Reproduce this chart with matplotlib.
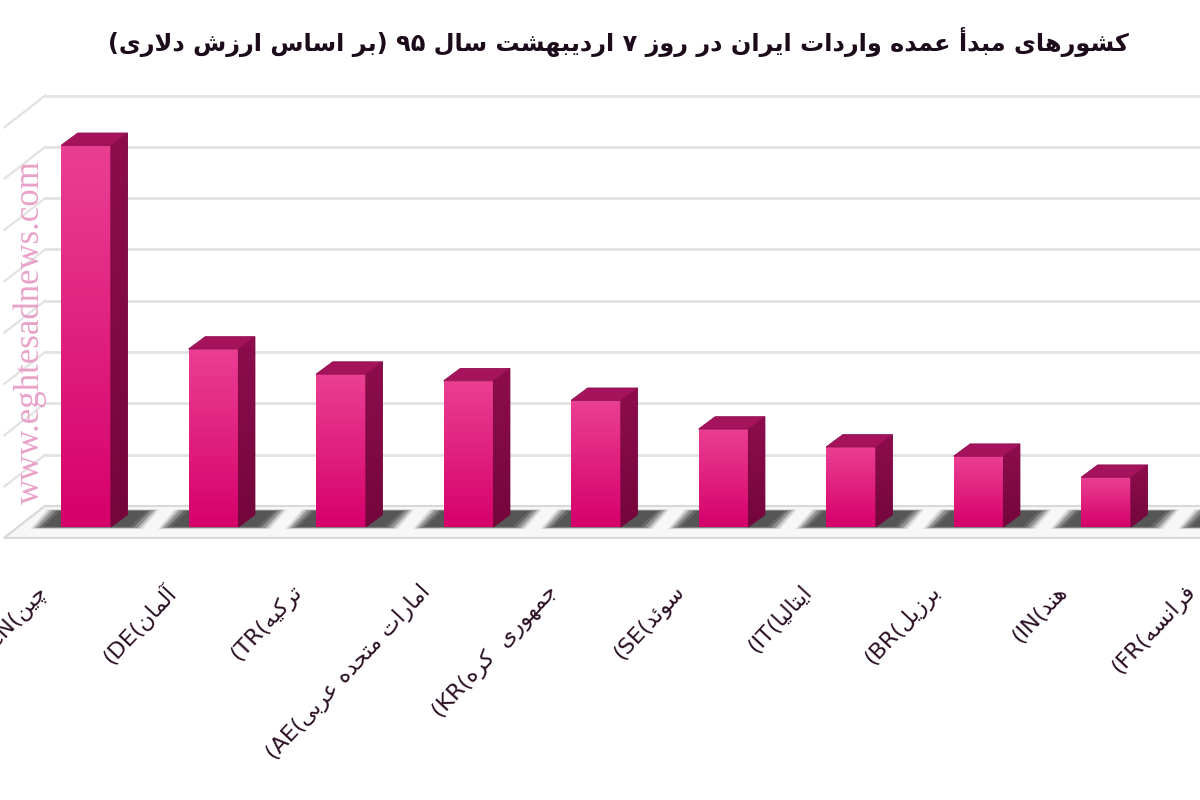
import numpy as np
import matplotlib.pyplot as plt
from matplotlib.colors import LinearSegmentedColormap
from matplotlib.patches import Polygon

# Data (relative units: one gridline step = 1)
codes = ['CN', 'DE', 'TR', 'AE', 'KR', 'SE', 'IT', 'BR', 'IN', 'FR']
names = ['چین', 'آلمان', 'ترکیه', 'امارات متحده عربی', 'جمهوری  کره',
         'سوئد', 'ایتالیا', 'برزیل', 'هند', 'فرانسه']
values = [7.44, 3.47, 2.98, 2.85, 2.47, 1.91, 1.56, 1.38, 0.97, 0.80]
grid_steps = [1, 2, 3, 4, 5, 6, 7, 8]

title = 'کشورهای مبدأ عمده واردات ایران در روز ۷ اردیبهشت سال ۹۵ (بر اساس ارزش دلاری)'
watermark = 'www.eghtesadnews.com'

# --- minimal Arabic/Persian shaping (matplotlib has no text shaping) ---
FORMS = {
    'ا': (0xFE8D, 0xFE8E), 'آ': (0xFE81, 0xFE82), 'أ': (0xFE83, 0xFE84),
    'إ': (0xFE87, 0xFE88), 'د': (0xFEA9, 0xFEAA), 'ذ': (0xFEAB, 0xFEAC),
    'ر': (0xFEAD, 0xFEAE), 'ز': (0xFEAF, 0xFEB0), 'ژ': (0xFB8A, 0xFB8B),
    'و': (0xFEED, 0xFEEE),
    'ب': (0xFE8F, 0xFE90, 0xFE91, 0xFE92), 'پ': (0xFB56, 0xFB57, 0xFB58, 0xFB59),
    'ت': (0xFE95, 0xFE96, 0xFE97, 0xFE98), 'ث': (0xFE99, 0xFE9A, 0xFE9B, 0xFE9C),
    'ج': (0xFE9D, 0xFE9E, 0xFE9F, 0xFEA0), 'چ': (0xFB7A, 0xFB7B, 0xFB7C, 0xFB7D),
    'ح': (0xFEA1, 0xFEA2, 0xFEA3, 0xFEA4), 'خ': (0xFEA5, 0xFEA6, 0xFEA7, 0xFEA8),
    'س': (0xFEB1, 0xFEB2, 0xFEB3, 0xFEB4), 'ش': (0xFEB5, 0xFEB6, 0xFEB7, 0xFEB8),
    'ص': (0xFEB9, 0xFEBA, 0xFEBB, 0xFEBC), 'ض': (0xFEBD, 0xFEBE, 0xFEBF, 0xFEC0),
    'ط': (0xFEC1, 0xFEC2, 0xFEC3, 0xFEC4), 'ظ': (0xFEC5, 0xFEC6, 0xFEC7, 0xFEC8),
    'ع': (0xFEC9, 0xFECA, 0xFECB, 0xFECC), 'غ': (0xFECD, 0xFECE, 0xFECF, 0xFED0),
    'ف': (0xFED1, 0xFED2, 0xFED3, 0xFED4), 'ق': (0xFED5, 0xFED6, 0xFED7, 0xFED8),
    'ک': (0xFB8E, 0xFB8F, 0xFB90, 0xFB91), 'گ': (0xFB92, 0xFB93, 0xFB94, 0xFB95),
    'ل': (0xFEDD, 0xFEDE, 0xFEDF, 0xFEE0), 'م': (0xFEE1, 0xFEE2, 0xFEE3, 0xFEE4),
    'ن': (0xFEE5, 0xFEE6, 0xFEE7, 0xFEE8), 'ه': (0xFEE9, 0xFEEA, 0xFEEB, 0xFEEC),
    'ی': (0xFBFC, 0xFBFD, 0xFBFE, 0xFBFF), 'ئ': (0xFE89, 0xFE8A, 0xFE8B, 0xFE8C),
}
LAM_ALEF = {'ا': (0xFEFB, 0xFEFC), 'آ': (0xFEF5, 0xFEF6),
            'أ': (0xFEF7, 0xFEF8), 'إ': (0xFEF9, 0xFEFA)}


def shape(text):
    out = []
    i = 0
    n = len(text)
    while i < n:
        c = text[i]
        if c not in FORMS:
            out.append(c)
            i += 1
            continue
        p = text[i - 1] if i > 0 else ''
        joins_prev = p in FORMS and len(FORMS[p]) == 4
        if c == 'ل' and i + 1 < n and text[i + 1] in LAM_ALEF:
            out.append(chr(LAM_ALEF[text[i + 1]][1 if joins_prev else 0]))
            i += 2
            continue
        nx = text[i + 1] if i + 1 < n else ''
        joins_next = len(FORMS[c]) == 4 and nx in FORMS
        f = FORMS[c]
        if joins_prev and joins_next:
            out.append(chr(f[3]))
        elif joins_prev:
            out.append(chr(f[1]))
        elif joins_next:
            out.append(chr(f[2]))
        else:
            out.append(chr(f[0]))
        i += 1
    return ''.join(out)


def rtl(text):
    # shape, then lay out right-to-left keeping digit/latin runs in order
    s = shape(text)
    runs, cur, cur_ltr = [], '', None
    for ch in s:
        ltr = ch.isascii() and ch.isalnum() or '\u06F0' <= ch <= '\u06F9'
        if cur and ltr != cur_ltr:
            runs.append((cur, cur_ltr))
            cur = ''
        cur += ch
        cur_ltr = ltr
    if cur:
        runs.append((cur, cur_ltr))
    mirror = {'(': ')', ')': '('}
    vis = []
    for r, ltr in reversed(runs):
        vis.append(r if ltr else ''.join(mirror.get(ch, ch) for ch in reversed(r)))
    return ''.join(vis)


# --- geometry of the pseudo-3D look (data units) ---
W = 0.39          # front face width
DX, DY = 0.13, 0.24   # bar depth vector
WALL_X, WALL_Y = -0.32, 0.41   # back wall origin
SDX, SDY = 0.32, 0.62  # side wall / floor depth

fig = plt.figure(figsize=(12, 8), dpi=100)
ax = fig.add_axes([0, 0, 1, 1])
ax.set_axis_off()
XMIN, XMAX = -86 / 127.5, (1200 - 86) / 127.5
YMIN, YMAX = -(800 - 527) / 51.3, 527 / 51.3

x = np.arange(len(values))

# back wall gridlines with the left-wall diagonals
for k in [0] + grid_steps:
    y = k + WALL_Y
    ax.plot([WALL_X, XMAX + 1], [y, y], color='#e2e2e2', lw=2, zorder=0.5,
            solid_capstyle='butt')
    ax.plot([WALL_X - SDX, WALL_X], [y - SDY, y], color='#e2e2e2', lw=1.6,
            zorder=0.5)

# floor
floor = Polygon([(WALL_X, WALL_Y), (XMAX + 1, WALL_Y), (XMAX + 1, WALL_Y - SDY),
                 (WALL_X - SDX, WALL_Y - SDY)], closed=True,
                facecolor='#f7f7f7', edgecolor='#d9d9d9', lw=1.5, zorder=1)
ax.add_patch(floor)

# blurred floor shadows
for xi in x:
    for grow, a in [(0.04, 0.12), (0.02, 0.2), (0.0, 0.3), (-0.03, 0.4),
                    (-0.06, 0.3)]:
        x0 = xi - W / 2 - 0.2 - grow
        x1 = xi + W / 2 + DX + 0.08 + grow
        y0, y1 = -0.02 - grow * 0.4, 0.33 + grow * 0.3
        sh = Polygon([(x0, y0), (x1, y0), (x1 + 0.13, y1), (x0 + 0.13, y1)],
                     closed=True, facecolor='#2e2e2e', edgecolor='none',
                     alpha=a, zorder=2)
        ax.add_patch(sh)

# bars: front faces through ax.bar, plus side and top faces
cmap = LinearSegmentedColormap.from_list('pink', ['#d6006b', '#e0207e', '#ea3f93'])
side_cmap = LinearSegmentedColormap.from_list('side', ['#74063c', '#8e0d4d'])
grad = np.linspace(0, 1, 256).reshape(-1, 1)
bars = ax.bar(x, values, width=W, color='#e0207e', edgecolor='none', zorder=3)
for xi, v, b in zip(x, values, bars):
    im = ax.imshow(grad, extent=[xi - W / 2, xi + W / 2, 0, v], origin='lower',
                   aspect='auto', cmap=cmap, zorder=3.1)
    im.set_clip_path(b)
    side = Polygon([(xi + W / 2, 0), (xi + W / 2 + DX, DY),
                    (xi + W / 2 + DX, v + DY), (xi + W / 2, v)], closed=True,
                   facecolor='#860b47', edgecolor='#74063c', lw=0.6, zorder=3.2)
    ax.add_patch(side)
    sim = ax.imshow(grad, extent=[xi + W / 2, xi + W / 2 + DX, 0, v + DY],
                    origin='lower', aspect='auto', cmap=side_cmap, zorder=3.25)
    sim.set_clip_path(side)
    top = Polygon([(xi - W / 2, v), (xi + W / 2, v), (xi + W / 2 + DX, v + DY),
                   (xi - W / 2 + DX, v + DY)], closed=True,
                  facecolor='#a5135d', edgecolor='#8e0c4e', lw=0.6, zorder=3.3)
    ax.add_patch(top)

# category labels, rotated
for xi, code, name in zip(x, codes, names):
    ax.text(xi - 0.33, -1.2, '(' + code + '(' + rtl(name), rotation=47,
            rotation_mode='anchor', ha='right', va='center', fontsize=16,
            color='#2a0f24', family='DejaVu Sans', zorder=5)

ax.set_xlim(XMIN, XMAX)
ax.set_ylim(YMIN, YMAX)

fig.text(0.025, 0.585, watermark, rotation=90, ha='center', va='center',
         fontsize=25, color='#e9a2c9', family='Liberation Serif')
fig.text(0.515, 1 - 42 / 800, rtl(title), ha='center', va='center',
         fontsize=17.3, fontweight='bold', color='#1c0b1a', family='DejaVu Sans')

fig.savefig('out.png', dpi=100)
